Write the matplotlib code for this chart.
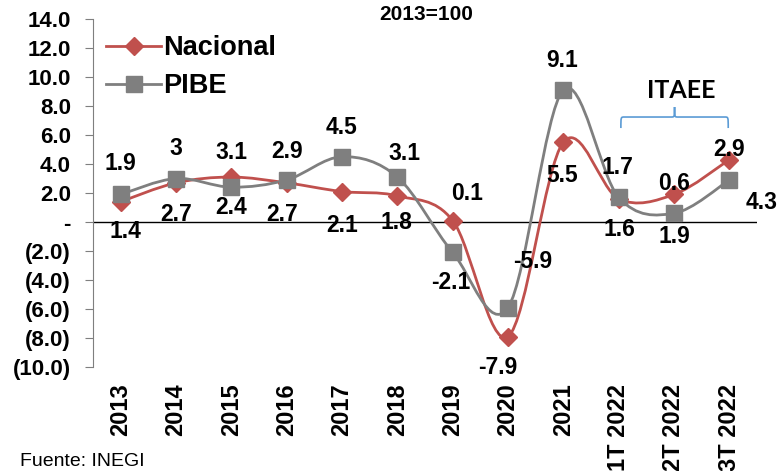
import matplotlib
matplotlib.use("Agg")
import matplotlib.pyplot as plt
from matplotlib.path import Path
from matplotlib.patches import PathPatch
from matplotlib.lines import Line2D
from matplotlib.ticker import FuncFormatter
import numpy as np

# data
categories = ["2013", "2014", "2015", "2016", "2017", "2018", "2019", "2020",
              "2021", "1T 2022", "2T 2022", "3T 2022"]
nacional = [1.4, 2.7, 3.1, 2.7, 2.1, 1.8, 0.1, -7.9, 5.5, 1.6, 1.9, 4.3]
pibe = [1.9, 3.0, 2.4, 2.9, 4.5, 3.1, -2.1, -5.9, 9.1, 1.7, 0.6, 2.9]

# label offsets in pixels (dx, dy up) relative to each marker
nac_off = [(5, -30), (0, -32), (0, 25), (-5, -32), (0, -34), (-1, -27),
           (14, 27), (-10, -31), (-1, -33), (1, -31), (0, -42), (32, -43)]
pibe_off = [(0, 31), (0, 30), (0, -20), (0, 28), (0, 29), (7, 24),
            (-2, -30), (25, 46), (-1, 30), (-1, 30), (0, 30), (0, 30)]

RED = "#C0504D"
GRAY = "#7F7F7F"
FONT = "Liberation Sans"

plt.rcParams["font.family"] = FONT
plt.rcParams["font.weight"] = "bold"


def smooth_path(xs, ys):
    # Excel style smoothed line: bezier with catmull-rom control points
    pts = np.column_stack([xs, ys]).astype(float)
    n = len(pts)
    verts = [pts[0]]
    codes = [Path.MOVETO]
    for i in range(n - 1):
        p0 = pts[i - 1] if i > 0 else pts[i]
        p1 = pts[i]
        p2 = pts[i + 1]
        p3 = pts[i + 2] if i + 2 < n else pts[i + 1]
        c1 = p1 + (p2 - p0) / 6.0
        c2 = p2 - (p3 - p1) / 6.0
        verts += [c1, c2, p2]
        codes += [Path.CURVE4] * 3
    return Path(verts, codes)


fig = plt.figure(figsize=(7.81, 4.71), dpi=100)
ax = fig.add_axes([93 / 781, 1 - 367 / 471, 664 / 781, 348 / 471])

x = np.arange(len(categories))

for vals, col, mk, ms in [(nacional, RED, "D", 9), (pibe, GRAY, "s", 11)]:
    ax.add_patch(PathPatch(smooth_path(x, vals), fill=False, edgecolor=col,
                           lw=2, zorder=3))
    ax.plot(x, vals, linestyle="None", color=col, marker=mk, ms=ms,
            markeredgecolor=col, zorder=4)

# legend handles with lines
handles = [Line2D([], [], color=RED, lw=2, marker="D", ms=9),
           Line2D([], [], color=GRAY, lw=2, marker="s", ms=11)]
ax.legend(handles, ["Nacional", "PIBE"], loc="upper left",
          bbox_to_anchor=(0.004, 0.985), frameon=False,
          prop={"family": FONT, "weight": "bold", "size": 19.5},
          handlelength=2.0, handletextpad=0.1, labelspacing=0.45,
          borderaxespad=0.0)

for vals, offs in [(nacional, nac_off), (pibe, pibe_off)]:
    for i, v in enumerate(vals):
        dx, dy = offs[i]
        ax.annotate("%g" % v, (x[i], v), xytext=(dx * 0.72, dy * 0.72),
                    textcoords="offset points", ha="center", va="center",
                    fontsize=16.5, fontweight="bold", color="black", zorder=5)

ax.axhline(0, color="black", lw=1, zorder=2)

ax.set_xlim(-0.5, len(categories) - 0.5)
ax.set_ylim(-10, 14)
ax.set_yticks(np.arange(-10, 15, 2))


def fmt(v, pos):
    if abs(v) < 1e-9:
        return "-"
    if v < 0:
        return "(%.1f)" % abs(v)
    return "%.1f" % v


ax.yaxis.set_major_formatter(FuncFormatter(fmt))
ax.tick_params(axis="y", length=6, color=GRAY, labelsize=16, pad=10)
ax.set_xticks(x)
ax.set_xticklabels(categories, rotation=90, fontsize=17, fontweight="bold",
                   va="top", ha="center")
ax.tick_params(axis="x", length=0, pad=12)

for s in ["top", "right", "bottom"]:
    ax.spines[s].set_visible(False)
ax.spines["left"].set_color(GRAY)

# ITAEE brace
x0, x1 = 9.04, 10.98
xm = (x0 + x1) / 2
ye, yh, yt = 6.48, 7.24, 7.93
r = 0.06
bverts = [(x0, ye), (x0, yh), (x0, yh), (x0 + r, yh),
          (xm - r, yh), (xm, yh), (xm, yh), (xm, yt),
          (xm, yh), (xm, yh), (xm + r, yh),
          (x1 - r, yh), (x1, yh), (x1, yh), (x1, ye)]
bcodes = [Path.MOVETO, Path.CURVE4, Path.CURVE4, Path.CURVE4,
          Path.LINETO, Path.CURVE4, Path.CURVE4, Path.CURVE4,
          Path.CURVE4, Path.CURVE4, Path.CURVE4,
          Path.LINETO, Path.CURVE4, Path.CURVE4, Path.CURVE4]
ax.add_patch(PathPatch(Path(bverts, bcodes), fill=False,
                       edgecolor="#5B9BD5", lw=1.2, zorder=2))
ax.text(10.13, 9.1, "ITAEE", ha="center", va="center", fontsize=18,
        fontweight="bold", family="Lato")

fig.text(426 / 781, 1 - 15 / 471, "2013=100", ha="center", va="center",
         fontsize=15, fontweight="bold")
fig.text(20 / 781, 1 / 471, "Fuente: INEGI", ha="left", va="bottom",
         fontsize=14, fontweight="normal")

fig.savefig("out.png", dpi=100)
